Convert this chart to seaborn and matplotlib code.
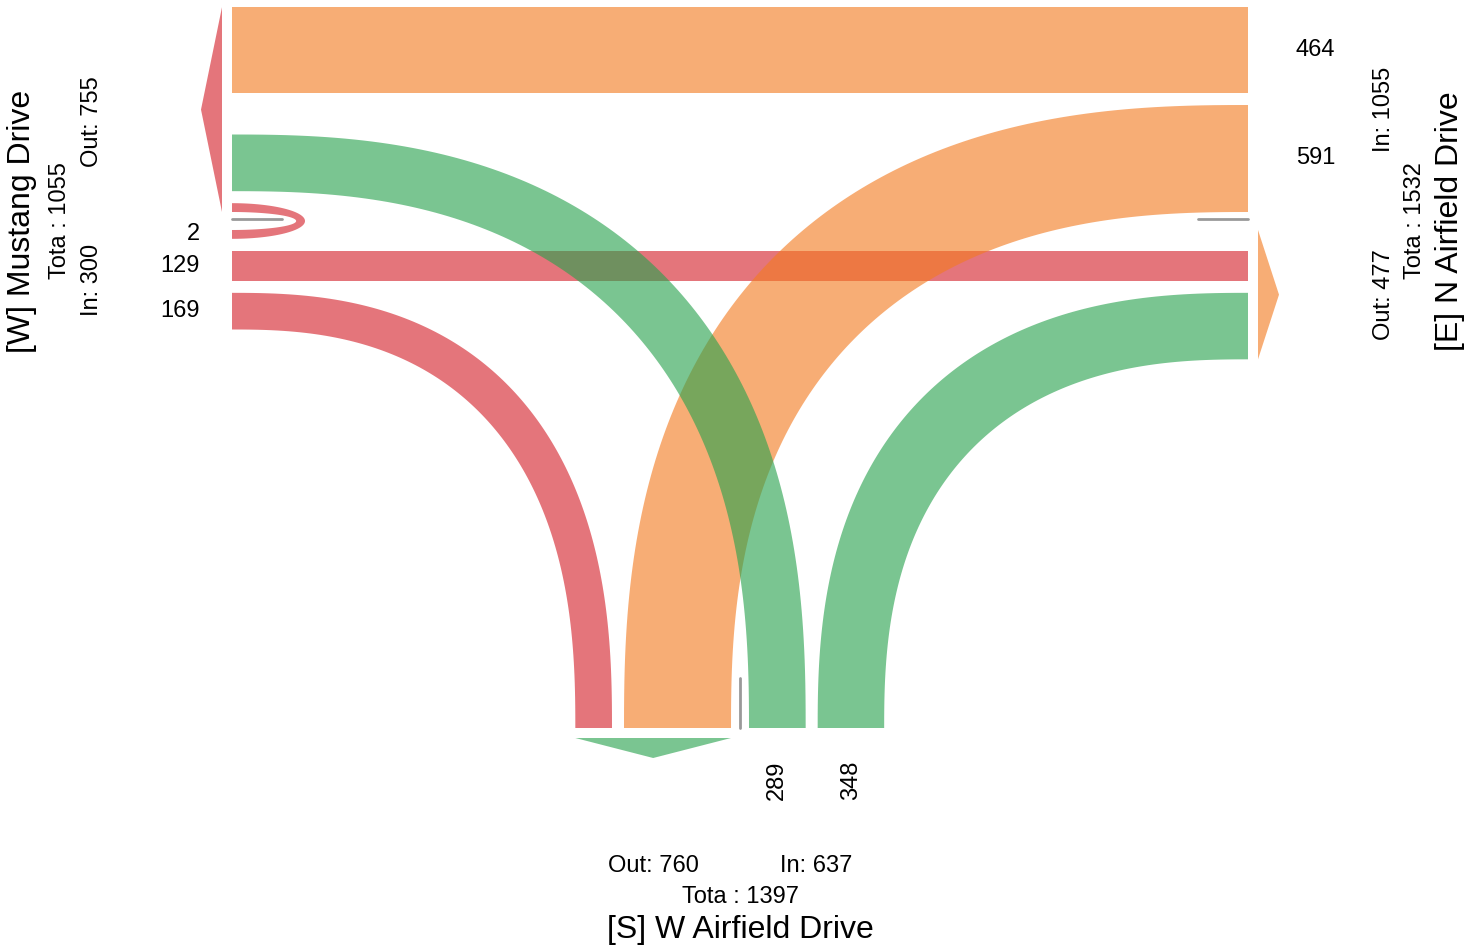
import numpy as np
import matplotlib
matplotlib.use("Agg")
import matplotlib.pyplot as plt
from matplotlib.patches import Polygon
import seaborn as sns

# approaches of the intersection
approach_codes = ["W", "E", "S"]
approach_names = ["Mustang Drive", "N Airfield Drive", "W Airfield Drive"]
approach_colors = ["#D4212A", "#F37B21", "#28A24E"]

# turning movement counts (from -> to)
flow_from = ["E", "E", "E", "W", "W", "W", "S", "S", "S"]
flow_to = ["W", "S", "E", "W", "E", "S", "W", "E", "S"]
flow_vol = [464, 591, 0, 2, 129, 169, 289, 348, 0]

sns.set_theme(style="white")
plt.rcParams["font.family"] = ["Liberation Sans", "DejaVu Sans"]
plt.rcParams["text.color"] = "black"

vol = {(a, b): v for a, b, v in zip(flow_from, flow_to, flow_vol)}
color = dict(zip(approach_codes, approach_colors))
name = dict(zip(approach_codes, approach_names))
ALPHA = 0.62

# layout (pixel space)
WEST_X, EAST_X, SOUTH_Y = 232, 1248, 728
H_MED, V_MED = 221, 740
H0, GAP = 9, 12
LOOP_LEN = 73
SQ = 2.5  # squareness of the turning curves


def width(v):
    return 8.5 + v / 6.0


def stack(keys, start=H0):
    pos, cur = {}, start
    for k in keys:
        if vol.get(k, 0) == 0:
            continue
        w = width(vol[k])
        pos[k] = (cur, cur + w)
        cur += w + GAP
    return pos, cur


# above the horizontal median: west outbound / east inbound
w_up, w_end = stack([("W", "W"), ("S", "W")])
e_up, e_end = stack([("E", "E"), ("E", "S")])
s_up = max(w_end, e_end)
thru_up = (s_up, s_up + width(vol[("E", "W")]))
# below the horizontal median: west inbound / east outbound
w_dn, w_end = stack([("W", "W")])
e_dn, e_end = stack([("E", "E")])
s_dn = max(w_end, e_end)
thru_dn = (s_dn, s_dn + width(vol[("W", "E")]))
w_dn2, _ = stack([("W", "S")], thru_dn[1] + GAP)
e_dn2, _ = stack([("S", "E")], thru_dn[1] + GAP)
w_dn.update(w_dn2)
e_dn.update(e_dn2)
# south: left outbound / right inbound
s_left, _ = stack([("S", "S"), ("E", "S"), ("W", "S")])
s_right, _ = stack([("S", "S"), ("S", "W"), ("S", "E")])

fig = plt.figure(figsize=(14.84, 9.52), dpi=100)
ax = fig.add_axes([0, 0, 1, 1])
ax.set_xlim(0, 1484)
ax.set_ylim(952, 0)
ax.axis("off")


def band(ys, xs, cx, sx, c):
    # rounded quarter band from a horizontal approach edge (x=cx) to the south edge
    t = np.linspace(0, np.pi / 2, 120)
    near_y, far_y = max(ys), min(ys)
    near_x = min(xs, key=lambda x: abs(x - cx))
    far_x = max(xs, key=lambda x: abs(x - cx))
    pts = []
    for y0, x0, tt in [(near_y, near_x, t), (far_y, far_x, t[::-1])]:
        rx, ry = abs(x0 - cx), SOUTH_Y - y0
        px = np.sin(tt) ** (2 / SQ)
        py = np.cos(tt) ** (2 / SQ)
        pts += list(zip(cx + sx * rx * px, SOUTH_Y - ry * py))
    ax.add_patch(Polygon(pts, closed=True, fc=c, ec="none", alpha=ALPHA))


def up(p):
    return (H_MED - p[1], H_MED - p[0])


def dn(p):
    return (H_MED + p[0], H_MED + p[1])


def lft(p):
    return (V_MED - p[1], V_MED - p[0])


def rgt(p):
    return (V_MED + p[0], V_MED + p[1])


# west flows
c = color["W"]
if ("W", "W") in w_up:
    w = width(vol[("W", "W")])
    th = np.linspace(-np.pi / 2, np.pi / 2, 80)
    outer = list(zip(WEST_X + LOOP_LEN * np.cos(th), H_MED + (H0 + w) * np.sin(th)))
    inner = list(zip(WEST_X + (LOOP_LEN - w) * np.cos(th[::-1]), H_MED + H0 * np.sin(th[::-1])))
    ax.add_patch(Polygon(outer + inner, closed=True, fc=c, ec="none", alpha=ALPHA))
y0, y1 = dn(thru_dn)
ax.fill_between([WEST_X, EAST_X], y0, y1, color=c, alpha=ALPHA, lw=0)
band(dn(w_dn[("W", "S")]), lft(s_left[("W", "S")]), WEST_X, 1, c)

# east flows
c = color["E"]
y0, y1 = up(thru_up)
ax.fill_between([WEST_X, EAST_X], y0, y1, color=c, alpha=ALPHA, lw=0)
band(up(e_up[("E", "S")]), lft(s_left[("E", "S")]), EAST_X, -1, c)

# south flows
c = color["S"]
band(up(w_up[("S", "W")]), rgt(s_right[("S", "W")]), WEST_X, 1, c)
band(dn(e_dn[("S", "E")]), rgt(s_right[("S", "E")]), EAST_X, -1, c)

# medians
gray = "#999999"
ax.plot([WEST_X, WEST_X + 50], [H_MED - 2, H_MED - 2], color=gray, lw=2)
ax.plot([EAST_X - 50, EAST_X], [H_MED - 2, H_MED - 2], color=gray, lw=2)
ax.plot([V_MED, V_MED], [SOUTH_Y - 50, SOUTH_Y], color=gray, lw=2)

# outbound arrows
w_zone = (H_MED - thru_up[1], H_MED - H0)
e_zone = (H_MED + H0, H_MED + max(p[1] for p in e_dn.values()))
s_zone = (V_MED - max(p[1] for p in s_left.values()), V_MED - H0)
ax.add_patch(Polygon([(WEST_X - 10, w_zone[0]), (WEST_X - 31, np.mean(w_zone)), (WEST_X - 10, w_zone[1])],
                     fc=color["W"], ec="none", alpha=ALPHA))
ax.add_patch(Polygon([(EAST_X + 10, e_zone[0]), (EAST_X + 31, np.mean(e_zone)), (EAST_X + 10, e_zone[1])],
                     fc=color["E"], ec="none", alpha=ALPHA))
ax.add_patch(Polygon([(s_zone[0], SOUTH_Y + 10), (np.mean(s_zone), SOUTH_Y + 30), (s_zone[1], SOUTH_Y + 10)],
                     fc=color["S"], ec="none", alpha=ALPHA))

# volume labels at the inbound edge
FS = 17
for k, p in w_dn.items():
    ax.text(WEST_X - 32, np.mean(dn(p)), str(vol[k]), ha="right", va="center", fontsize=FS)
ax.text(WEST_X - 32, np.mean(dn(thru_dn)), str(vol[("W", "E")]), ha="right", va="center", fontsize=FS)
ax.text(EAST_X + 48, np.mean(up(thru_up)), str(vol[("E", "W")]), ha="left", va="center", fontsize=FS)
for k, p in e_up.items():
    ax.text(EAST_X + 48, np.mean(up(p)), str(vol[k]), ha="left", va="center", fontsize=FS)
for k, p in s_right.items():
    ax.text(np.mean(rgt(p)), SOUTH_Y + 52, str(vol[k]), ha="center", va="center", rotation=90, fontsize=FS)

# approach summaries
tin = {a: sum(v for (f, t), v in vol.items() if f == a) for a in approach_codes}
tout = {a: sum(v for (f, t), v in vol.items() if t == a) for a in approach_codes}
e_in_zone = (H_MED - thru_up[1], H_MED - H0)
w_in_zone = (H_MED + H0, H_MED + w_dn[("W", "S")][1])

ax.text(22, H_MED, f"[W] {name['W']}", rotation=90, ha="center", va="center", fontsize=23)
ax.text(60, H_MED, f"Tota : {tin['W'] + tout['W']}", rotation=90, ha="center", va="center", fontsize=FS)
ax.text(92, np.mean(w_zone) + 12, f"Out: {tout['W']}", rotation=90, ha="center", va="center", fontsize=FS)
ax.text(92, np.mean(w_in_zone), f"In: {tin['W']}", rotation=90, ha="center", va="center", fontsize=FS)

ax.text(1450, H_MED, f"[E] {name['E']}", rotation=90, ha="center", va="center", fontsize=23)
ax.text(1415, H_MED, f"Tota : {tin['E'] + tout['E']}", rotation=90, ha="center", va="center", fontsize=FS)
ax.text(1384, np.mean(e_in_zone), f"In: {tin['E']}", rotation=90, ha="center", va="center", fontsize=FS)
ax.text(1384, np.mean(e_zone), f"Out: {tout['E']}", rotation=90, ha="center", va="center", fontsize=FS)

ax.text(np.mean(s_zone), 866, f"Out: {tout['S']}", ha="center", va="center", fontsize=FS)
ax.text(np.mean(rgt((H0, s_right[('S', 'E')][1]))), 866, f"In: {tin['S']}", ha="center", va="center", fontsize=FS)
ax.text(V_MED, 897, f"Tota : {tin['S'] + tout['S']}", ha="center", va="center", fontsize=FS)
ax.text(V_MED, 930, f"[S] {name['S']}", ha="center", va="center", fontsize=23)

fig.savefig("out.png", dpi=100)
